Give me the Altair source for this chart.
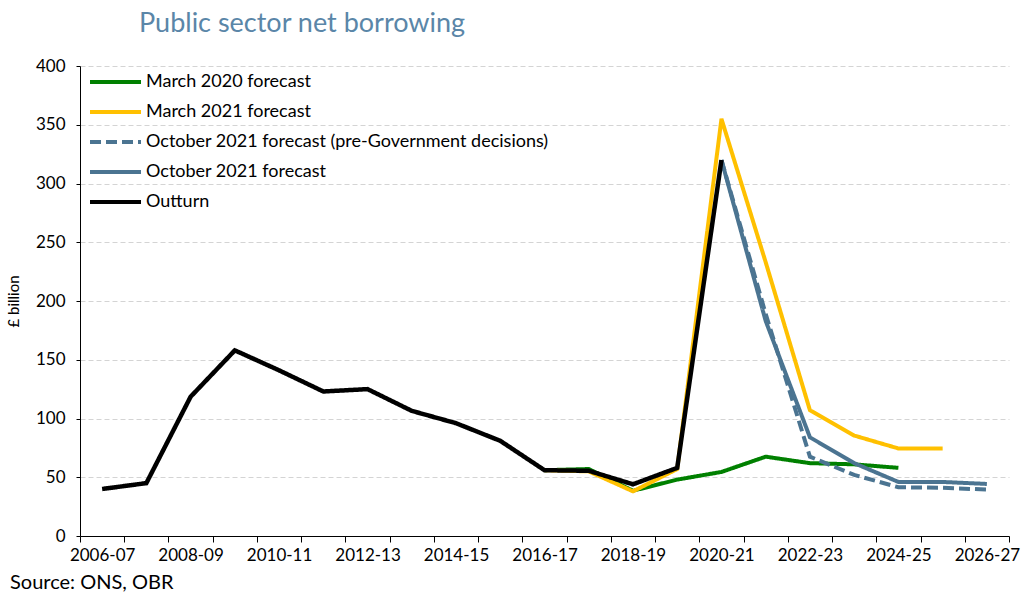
import altair as alt
import pandas as pd

years = ["2006-07", "2007-08", "2008-09", "2009-10", "2010-11", "2011-12", "2012-13",
         "2013-14", "2014-15", "2015-16", "2016-17", "2017-18", "2018-19", "2019-20",
         "2020-21", "2021-22", "2022-23", "2023-24", "2024-25", "2025-26", "2026-27"]

series_names = ["March 2020 forecast", "March 2021 forecast",
                "October 2021 forecast (pre-Government decisions)",
                "October 2021 forecast", "Outturn"]
series_colors = ["#008000", "#FFC000", "#4B7491", "#4B7491", "#000000"]
series_dash = [[1, 0], [1, 0], [11, 5], [1, 0], [1, 0]]

outturn_years = years[0:15]
outturn = [40, 45, 118.5, 158, 141, 123, 125, 106.5, 96, 81, 56, 55.5, 44, 58, 320]

march2020_years = years[10:19]
march2020 = [56, 57, 38.5, 48, 54.5, 67.5, 62, 61, 58]

march2021_years = years[10:20]
march2021 = [56, 55, 38, 57, 355, 233, 107, 85.5, 74.5, 74.5]

oct2021_pre_years = years[14:21]
oct2021_pre = [320, 189, 67.5, 52, 41.5, 41, 39.5]

oct2021_years = years[14:21]
oct2021 = [320, 183, 84, 62, 46, 46, 44.3]

source_text = ["Source: ONS, OBR"]

rows = []
for name, ys, vs in [
    (series_names[0], march2020_years, march2020),
    (series_names[1], march2021_years, march2021),
    (series_names[2], oct2021_pre_years, oct2021_pre),
    (series_names[3], oct2021_years, oct2021),
    (series_names[4], outturn_years, outturn),
]:
    for y, v in zip(ys, vs):
        rows.append({"series": name, "year": y, "xi": years.index(y) + 0.5, "value": v})
df = pd.DataFrame(rows)

FONT = "Lato"
W, H = 929, 470
N = len(years)

year_array = "[" + ",".join("'" + y + "'" for y in years) + "]"
label_expr = f"(datum.value % 2 == 0 && datum.value < {N}) ? {year_array}[datum.value] : ''"

x_enc = alt.X(
    "xi:Q",
    scale=alt.Scale(domain=[0, N], nice=False, zero=False),
    axis=alt.Axis(
        title=None,
        values=list(range(N + 1)),
        labelExpr=label_expr,
        labelOffset=W / N / 2,
        labelOverlap=False,
        labelFlush=False,
        labelAngle=0,
        tickSize=6,
        tickColor="#000000",
        domainColor="#000000",
        labelFontSize=17,
        labelColor="#000000",
        labelPadding=5,
        grid=False,
    ),
)
y_enc = alt.Y(
    "value:Q",
    scale=alt.Scale(domain=[0, 400], nice=False),
    axis=alt.Axis(
        values=list(range(0, 401, 50)),
        title="£ billion",
        titleFontSize=15,
        titleFontWeight="normal",
        titleColor="#000000",
        titlePadding=14,
        labelFontSize=17,
        labelColor="#000000",
        labelPadding=11,
        tickSize=4,
        tickColor="#000000",
        domainColor="#000000",
        grid=True,
        gridColor="#d4d4d4",
        gridDash=[5, 3],
    ),
)
color_enc = alt.Color(
    "series:N",
    scale=alt.Scale(domain=series_names, range=series_colors),
    legend=alt.Legend(
        title=None,
        orient="none",
        legendX=8,
        legendY=1,
        symbolType="stroke",
        symbolSize=2600,
        symbolStrokeWidth=4,
        labelFontSize=18,
        labelColor="#000000",
        labelOffset=3,
        labelLimit=0,
        clipHeight=30,
        rowPadding=0,
    ),
)
dash_enc = alt.StrokeDash(
    "series:N",
    scale=alt.Scale(domain=series_names, range=series_dash),
    legend=None,
)

layers = []
for name in series_names:
    layers.append(
        alt.Chart(df)
        .transform_filter(alt.datum.series == name)
        .mark_line(strokeWidth=4.5 if name == "Outturn" else 4)
        .encode(x=x_enc, y=y_enc, color=color_enc, strokeDash=dash_enc)
    )

source = alt.Chart(pd.DataFrame({"t": source_text})).mark_text(
    align="left", baseline="alphabetic", fontSize=20, font=FONT, color="#000000"
).encode(x=alt.value(-70), y=alt.value(H + 53), text="t:N")

chart = (
    alt.layer(*layers, source)
    .properties(
        width=W,
        height=H,
        autosize=alt.AutoSizeParams(type="none"),
        padding={"left": 80, "top": 66, "right": 20, "bottom": 60},
        title=alt.TitleParams(
            "Public sector net borrowing",
            anchor="start",
            frame="group",
            dx=59,
            offset=19,
            fontSize=27,
            fontWeight="normal",
            color="#5A86A8",
            font=FONT,
        ),
    )
    .configure(font=FONT)
    .configure_view(stroke=None)
    .configure_axis(labelFont=FONT, titleFont=FONT)
    .configure_legend(labelFont=FONT)
)

chart.save("out.html", embed_options={"renderer": "svg", "actions": False})
